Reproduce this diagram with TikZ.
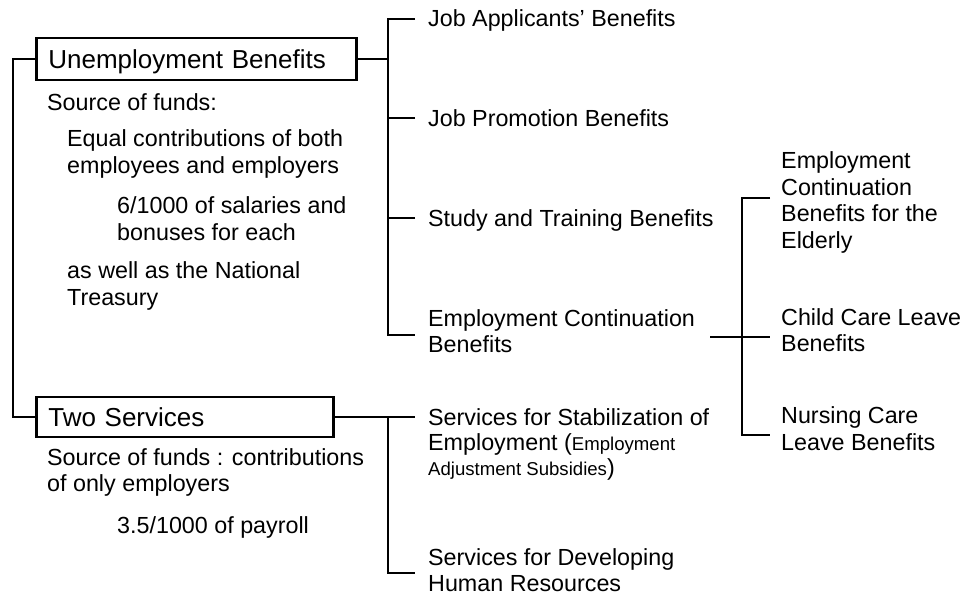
\documentclass[tikz,border=0pt]{standalone}
\usepackage{fontspec}
\setmainfont{Liberation Sans}
\newcommand{\adjfont}{\fontsize{18.6}{25}\selectfont}
\begin{document}
\begin{tikzpicture}[x=1pt, y=-1pt,
    titlebox/.style={draw, line width=2.7pt, anchor=west, inner xsep=12pt, inner ysep=0pt, text depth=0pt, align=left, font=\fontsize{26}{30}\selectfont},
    item/.style={anchor=base west, inner sep=0pt, align=left, font=\fontsize{23.3}{26.7}\selectfont},
    link/.style={line width=2.7pt}
]
    \useasboundingbox (0,0) rectangle (965,595);

    % the two insurance parts (item nodes sit on the baseline of their last line)
    \node[titlebox, text width=296pt, minimum height=42pt] at (35,59) (ub) {Unemployment Benefits};
    \node[titlebox, text width=273pt, minimum height=40pt] at (35,417) (ts) {Two Services};

    \node[item] at (47,110) (src1) {Source of funds:};
    \node[item] at (67,173.4) (eq) {Equal contributions of both\\employees and employers};
    \node[item] at (117,240) (sal) {6/1000 of salaries and\\bonuses for each};
    \node[item] at (67,305) (nt) {as well as the National\\Treasury};
    \node[item] at (47,491.7) (src2) {Source of funds : contributions\\of only employers};
    \node[item] at (117,533.3) (pay) {3.5/1000 of payroll};

    % benefits
    \node[item] at (428,26.7) (appl) {Job Applicants’ Benefits};
    \node[item] at (428,126.7) (prom) {Job Promotion Benefits};
    \node[item] at (428,226.7) (stud) {Study and Training Benefits};
    \node[item, font=\fontsize{23.3}{25.7}\selectfont] at (428,352.4) (cont) {Employment Continuation\\Benefits};
    \node[item, font=\fontsize{23.3}{25}\selectfont] at (428,475) (stab) {Services for Stabilization of\\Employment ({\adjfont Employment}\\{\adjfont Adjustment Subsidies})};
    \node[item] at (428,591.7) (hres) {Services for Developing\\Human Resources};

    \node[item] at (781,248.4) (eld) {Employment\\Continuation\\Benefits for the\\Elderly};
    \node[item] at (781,351.7) (child) {Child Care Leave\\Benefits};
    \node[item] at (781,450) (nurs) {Nursing Care\\Leave Benefits};

    % tick ends and bracket points
    \coordinate (tappl) at (415,19);
    \coordinate (tprom) at (415,118);
    \coordinate (tstud) at (415,218);
    \coordinate (tcont) at (415,335);
    \coordinate (tstab) at (415,417);
    \coordinate (thres) at (415,573);
    \coordinate (ubr) at (388,59);
    \coordinate (tcr) at (710,337);
    \coordinate (ecb) at (742,337);
    \coordinate (teld) at (770,198);
    \coordinate (tchild) at (770,337);
    \coordinate (tnurs) at (770,435);

    \draw[link] (ub.west) -- ++(-22,0) |- (ts.west);
    \draw[link] (ub.east) -- (ubr);
    \draw[link] (tappl) -| (ubr) |- (tcont);
    \draw[link] (tprom) -- (tprom -| ubr);
    \draw[link] (tstud) -- (tstud -| ubr);
    \draw[link] (ts.east) -- (tstab);
    \draw[link] (tstab -| ubr) |- (thres);
    \draw[link] (tcr) -- (tchild);
    \draw[link] (teld) -| (ecb) |- (tnurs);
\end{tikzpicture}
\end{document}
